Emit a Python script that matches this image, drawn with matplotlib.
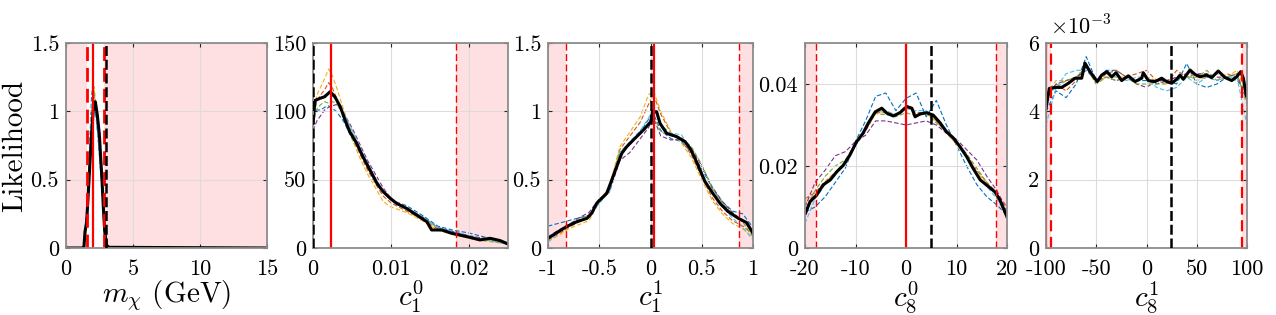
import matplotlib
matplotlib.use("Agg")
import matplotlib.pyplot as plt
import numpy as np

# MATLAB default line colours for the six chains
chain_colors = ['#0072BD', '#D95319', '#EDB120', '#7E2F8E', '#77AC30', '#4DBEEE']

# ---- panel 1: m_chi ----
m_x = [0, 1.3, 1.34, 1.42, 1.54, 1.67, 1.79, 1.92, 2.04, 2.19, 2.34, 2.49, 2.59, 2.69, 2.79, 2.89, 3.03, 3.2, 15]
m_y = [0, 0, 0.01, 0.12, 0.19, 0.41, 0.63, 0.85, 1.02, 1.07, 0.97, 0.83, 0.66, 0.49, 0.29, 0.12, 0.02, 0.005, 0]
m_cx = [1.3, 1.45, 1.6, 1.75, 1.9, 2.0, 2.1, 2.25, 2.4, 2.55, 2.7, 2.85, 3.0, 3.15]
m_chains = [
    [0, 0.15, 0.35, 0.70, 1.10, 1.20, 1.05, 0.95, 0.80, 0.60, 0.42, 0.20, 0.04, 0],
    [0, 0.10, 0.30, 0.62, 0.95, 1.05, 1.10, 1.00, 0.90, 0.72, 0.50, 0.25, 0.05, 0],
    [0, 0.12, 0.32, 0.66, 1.00, 1.12, 1.18, 1.02, 0.85, 0.66, 0.45, 0.22, 0.04, 0],
    [0, 0.10, 0.28, 0.60, 0.92, 1.00, 1.02, 0.98, 0.82, 0.64, 0.44, 0.20, 0.03, 0],
    [0, 0.11, 0.30, 0.64, 0.98, 1.08, 1.15, 1.00, 0.84, 0.66, 0.47, 0.23, 0.04, 0],
    [0, 0.13, 0.33, 0.68, 1.02, 1.10, 1.08, 0.97, 0.80, 0.62, 0.44, 0.22, 0.04, 0],
]

# ---- panel 2: c1^0 ----
c10_x = [0, 0.00026, 0.0009, 0.0015, 0.0022, 0.0028, 0.0035, 0.0041, 0.0047, 0.0056, 0.0064, 0.0073,
         0.0082, 0.009, 0.0099, 0.0107, 0.012, 0.0133, 0.0146, 0.0152, 0.0165, 0.0178, 0.0188,
         0.0201, 0.0214, 0.0227, 0.024, 0.025]
c10_y = [92, 108, 109.5, 110.7, 114.4, 110.7, 103.4, 93.7, 85.1, 76.6, 66.8, 57.1,
         47.3, 41.2, 36.4, 32.7, 29.0, 24.1, 19.2, 13.2, 13.2, 10.7, 9.5,
         7.8, 5.9, 7.1, 5.4, 2.9]
c10_cx = [0, 0.0005, 0.001, 0.0015, 0.002, 0.0025, 0.003, 0.004, 0.005, 0.006, 0.007, 0.008,
          0.009, 0.010, 0.012, 0.014, 0.016, 0.018, 0.020, 0.022, 0.025]
c10_chains = [
    [96, 101, 101, 103, 104, 102, 100, 92, 80, 70, 58, 49, 41, 35, 31, 24, 16, 13, 11, 8, 4],
    [94, 108, 112, 116, 121, 117, 110, 95, 82, 69, 57, 47, 38, 33, 27, 21, 14, 10, 8, 6, 3],
    [98, 112, 118, 124, 131, 126, 118, 100, 80, 66, 54, 44, 34, 30, 26, 20, 13, 10, 7, 5, 3],
    [86, 93, 97, 101, 103, 104, 105, 98, 88, 76, 64, 54, 44, 36, 29, 23, 15, 12, 9, 7, 4],
    [90, 102, 105, 107, 106, 107, 106, 97, 85, 73, 62, 51, 41, 35, 28, 22, 15, 11, 8, 6, 3],
    [100, 108, 110, 112, 112, 111, 109, 98, 86, 74, 62, 51, 42, 35, 29, 23, 15, 12, 9, 6, 3],
]

# ---- panel 3: c1^1 ----
c11_x = [-1, -0.90, -0.82, -0.72, -0.62, -0.574, -0.525, -0.476, -0.427, -0.378, -0.33, -0.28,
         -0.232, -0.168, -0.102, -0.054, 0.002, 0.02, 0.06, 0.093, 0.158, 0.255, 0.337, 0.385,
         0.434, 0.483, 0.532, 0.597, 0.678, 0.759, 0.857, 0.939, 1.0]
c11_y = [0.071, 0.119, 0.156, 0.192, 0.217, 0.254, 0.327, 0.364, 0.40, 0.498, 0.595, 0.693,
         0.741, 0.790, 0.839, 0.876, 0.924, 0.997, 0.997, 0.912, 0.839, 0.815, 0.778, 0.730,
         0.656, 0.571, 0.485, 0.412, 0.327, 0.266, 0.217, 0.185, 0.107]
c11_cx = [-1, -0.9, -0.8, -0.7, -0.6, -0.5, -0.4, -0.3, -0.2, -0.1, -0.02, 0.03, 0.1, 0.2, 0.3,
          0.4, 0.5, 0.6, 0.7, 0.8, 0.9, 1.0]
c11_chains = [
    [0.16, 0.18, 0.20, 0.22, 0.24, 0.33, 0.42, 0.68, 0.76, 0.85, 0.94, 0.98, 0.86, 0.80, 0.78, 0.70, 0.58, 0.44, 0.34, 0.27, 0.25, 0.15],
    [0.06, 0.10, 0.15, 0.19, 0.22, 0.35, 0.44, 0.72, 0.82, 0.92, 1.05, 1.12, 0.98, 0.84, 0.79, 0.68, 0.52, 0.37, 0.27, 0.20, 0.16, 0.10],
    [0.05, 0.09, 0.14, 0.17, 0.20, 0.34, 0.45, 0.74, 0.85, 0.96, 1.12, 1.15, 1.00, 0.85, 0.77, 0.66, 0.50, 0.35, 0.25, 0.18, 0.14, 0.08],
    [0.08, 0.13, 0.17, 0.22, 0.26, 0.36, 0.41, 0.64, 0.70, 0.80, 0.88, 0.95, 0.82, 0.79, 0.80, 0.73, 0.60, 0.45, 0.34, 0.26, 0.20, 0.12],
    [0.07, 0.12, 0.16, 0.21, 0.24, 0.35, 0.43, 0.70, 0.76, 0.84, 0.90, 0.96, 0.85, 0.82, 0.81, 0.74, 0.61, 0.44, 0.33, 0.25, 0.19, 0.08],
    [0.04, 0.11, 0.17, 0.20, 0.22, 0.33, 0.41, 0.70, 0.78, 0.86, 0.95, 1.02, 0.90, 0.84, 0.83, 0.72, 0.55, 0.40, 0.30, 0.22, 0.15, 0.06],
]

# ---- panel 4: c8^0 ----
c80_x = [-19.9, -19.0, -17.7, -16.4, -15.0, -13.7, -12.4, -11.1, -9.8, -8.5, -7.5, -6.1, -4.8,
         -3.8, -2.5, -1.2, 0.17, 1.16, 1.8, 2.8, 4.1, 5.4, 6.7, 8.0, 9.4, 10.7, 12.0, 13.3,
         14.7, 16.3, 17.6, 18.6, 20]
c80_y = [0.0085, 0.0113, 0.0129, 0.0154, 0.0166, 0.0186, 0.0202, 0.0227, 0.0259, 0.0280, 0.0304,
         0.0332, 0.0341, 0.0329, 0.0322, 0.0330, 0.0345, 0.0341, 0.0320, 0.0327, 0.0330, 0.0324,
         0.0306, 0.0284, 0.0268, 0.0247, 0.0223, 0.0194, 0.0166, 0.0150, 0.0137, 0.0117, 0.0076]
c80_cx = [-20, -18, -16, -14, -12, -10, -8, -6, -4, -2, 0, 2, 4, 6, 8, 10, 12, 14, 16, 18, 20]
c80_chains = [
    [0.0088, 0.0100, 0.0125, 0.0160, 0.0195, 0.0260, 0.0310, 0.0370, 0.0378, 0.0335, 0.0365, 0.0378, 0.0320, 0.0360, 0.0300, 0.0250, 0.0200, 0.0155, 0.0125, 0.0105, 0.0080],
    [0.0120, 0.0135, 0.0162, 0.0185, 0.0205, 0.0250, 0.0285, 0.0330, 0.0330, 0.0325, 0.0345, 0.0330, 0.0330, 0.0310, 0.0280, 0.0255, 0.0225, 0.0190, 0.0160, 0.0135, 0.0100],
    [0.0110, 0.0130, 0.0160, 0.0185, 0.0210, 0.0255, 0.0290, 0.0335, 0.0330, 0.0320, 0.0350, 0.0325, 0.0328, 0.0310, 0.0282, 0.0252, 0.0222, 0.0185, 0.0158, 0.0128, 0.0085],
    [0.0100, 0.0160, 0.0190, 0.0225, 0.0235, 0.0260, 0.0275, 0.0310, 0.0310, 0.0305, 0.0300, 0.0305, 0.0310, 0.0300, 0.0280, 0.0265, 0.0240, 0.0215, 0.0175, 0.0140, 0.0090],
    [0.0090, 0.0140, 0.0175, 0.0200, 0.0215, 0.0255, 0.0288, 0.0328, 0.0325, 0.0320, 0.0330, 0.0322, 0.0328, 0.0305, 0.0285, 0.0258, 0.0230, 0.0195, 0.0160, 0.0130, 0.0070],
    [0.0060, 0.0120, 0.0155, 0.0185, 0.0205, 0.0250, 0.0290, 0.0335, 0.0335, 0.0325, 0.0340, 0.0335, 0.0335, 0.0315, 0.0285, 0.0255, 0.0220, 0.0180, 0.0150, 0.0120, 0.0080],
]

# ---- panel 5: c8^1 (values in units of 1e-3) ----
c81_x = [-100, -96.7, -91, -84.4, -77.8, -71.1, -64.5, -61.2, -56.2, -49, -44.6, -39.6, -34.6,
         -30.3, -24.7, -18.1, -11.4, -4.8, -3.2, 1.8, 8.5, 15.1, 20.1, 25.1, 30.0, 33.3, 36.6,
         43.3, 48.3, 53.2, 59.9, 64.9, 71.4, 78.1, 84.8, 89.7, 93.7, 96.3, 99.5]
c81_y = [4.09, 4.67, 4.70, 4.70, 4.82, 4.97, 4.97, 5.41, 5.16, 4.87, 5.06, 5.16, 5.01,
         5.13, 4.90, 5.04, 4.87, 4.97, 5.13, 4.90, 4.87, 4.97, 4.87, 4.82, 4.94, 5.06, 4.94,
         5.21, 5.08, 5.01, 5.06, 4.99, 5.18, 4.99, 4.90, 5.01, 5.16, 4.97, 4.45]
c81_cx = [-100, -90, -80, -70, -60, -50, -40, -30, -20, -10, 0, 10, 20, 30, 40, 50, 60, 70, 80, 90, 100]
c81_chains = [
    [4.0, 4.6, 4.4, 4.8, 5.6, 4.9, 5.2, 5.2, 5.0, 4.9, 4.9, 4.8, 4.9, 4.8, 5.4, 4.8, 4.7, 4.8, 5.0, 4.9, 4.6],
    [4.3, 4.8, 4.6, 4.9, 5.3, 4.8, 5.1, 5.2, 5.0, 5.1, 5.2, 4.9, 4.8, 5.2, 5.0, 5.1, 5.0, 4.9, 5.1, 5.0, 4.4],
    [4.5, 4.9, 4.9, 5.0, 5.3, 4.9, 5.0, 5.0, 5.0, 4.9, 5.0, 4.9, 4.9, 5.0, 5.1, 4.9, 5.0, 5.1, 5.0, 5.2, 4.5],
    [4.4, 4.8, 4.9, 5.0, 5.2, 4.9, 5.0, 4.9, 5.0, 4.8, 4.7, 4.9, 4.9, 5.0, 5.1, 5.1, 5.1, 5.0, 5.0, 5.1, 4.3],
    [4.5, 4.7, 4.9, 5.0, 5.3, 4.8, 5.0, 4.9, 5.0, 4.8, 4.8, 4.8, 4.8, 4.9, 5.0, 5.0, 5.2, 4.9, 5.0, 5.1, 4.2],
    [3.6, 4.7, 5.1, 5.2, 5.2, 4.9, 5.2, 5.0, 4.9, 5.0, 5.0, 4.7, 4.6, 4.7, 5.0, 4.8, 5.0, 4.9, 5.0, 5.0, 3.6],
]

# reference lines: best fit (red solid), 1-sigma bounds (red dashed), truth (black dash-dot)
best_fit = [1.99, 0.0023, 0.034, 0.0, -99.8]
bounds = [(1.54, 2.82), (-1.0, 0.0183), (-0.82, 0.867), (-17.8, 17.8), (-95, 94.7)]
truth = [2.99, 0.00004, 0.002, 4.9, 24.1]

xlims = [(0, 15), (0, 0.025), (-1, 1), (-20, 20), (-100, 100)]
ylims = [(0, 1.5), (0, 150), (0, 1.5), (0, 0.05), (0, 6)]
xticks = [[0, 5, 10, 15], [0, 0.01, 0.02], [-1, -0.5, 0, 0.5, 1], [-20, -10, 0, 10, 20], [-100, -50, 0, 50, 100]]
xticklabels = [['0', '5', '10', '15'], ['0', '0.01', '0.02'], ['-1', '-0.5', '0', '0.5', '1'],
               ['-20', '-10', '0', '10', '20'], ['-100', '-50', '0', '50', '100']]
yticks = [[0, 0.5, 1, 1.5], [0, 50, 100, 150], [0, 0.5, 1, 1.5], [0, 0.02, 0.04], [0, 2, 4, 6]]
yticklabels = [['0', '0.5', '1', '1.5'], ['0', '50', '100', '150'], ['0', '0.5', '1', '1.5'],
               ['0', '0.02', '0.04'], ['0', '2', '4', '6']]
xlabels = [r'$m_\chi$ (GeV)', r'$c_1^0$', r'$c_1^1$', r'$c_8^0$', r'$c_8^1$']
dash_lw = [2.0, 1.0, 1.0, 1.0, 1.6]

panels = [
    (m_x, m_y, m_cx, m_chains),
    (c10_x, c10_y, c10_cx, c10_chains),
    (c11_x, c11_y, c11_cx, c11_chains),
    (c80_x, c80_y, c80_cx, c80_chains),
    (c81_x, c81_y, c81_cx, c81_chains),
]

plt.rcParams['font.family'] = 'cmr10'
plt.rcParams['mathtext.fontset'] = 'cm'
plt.rcParams['axes.unicode_minus'] = False

W, H = 1276, 315
fig = plt.figure(figsize=(W / 100, H / 100), dpi=100)
lefts = [66, 313, 548, 805, 1046]
widths = [201, 195, 205, 202, 201]
top_px, bot_px = 43, 248

for i, (bx, by, cx, chains) in enumerate(panels):
    ax = fig.add_axes([lefts[i] / W, 1 - bot_px / H, widths[i] / W, (bot_px - top_px) / H])
    x0, x1 = xlims[i]
    lo, hi = bounds[i]
    ax.axvspan(x0, lo, color='#ffe0e2', lw=0, zorder=0)
    ax.axvspan(hi, x1, color='#ffe0e2', lw=0, zorder=0)

    for c, ys in zip(chain_colors, chains):
        ax.plot(cx, ys, '--', color=c, lw=0.8, dashes=(4, 2), zorder=2)
    ax.plot(bx, by, '-', color='black', lw=2.2, zorder=3)

    ax.axvline(best_fit[i], color='red', lw=1.6, zorder=4)
    for b in bounds[i]:
        if x0 < b < x1:
            ax.axvline(b, color='red', ls='--', lw=dash_lw[i], dashes=(5, 2.5), zorder=4)
    ax.axvline(truth[i], color='black', ls='--', lw=1.8, dashes=(4, 1.5), zorder=6)

    ax.set_xlim(x0, x1)
    ax.set_ylim(*ylims[i])
    ax.set_xticks(xticks[i])
    ax.set_xticklabels(xticklabels[i])
    ax.set_yticks(yticks[i])
    ax.set_yticklabels(yticklabels[i])
    ax.tick_params(direction='in', length=3, width=0.8, color='#262626', labelsize=16,
                   top=True, right=True)
    ax.tick_params(axis='x', pad=8)
    ax.tick_params(axis='y', pad=5)
    ax.grid(True, color='#dcdcdc', lw=0.8, zorder=1)
    ax.set_axisbelow(False)
    for s in ax.spines.values():
        s.set_color('#8c8c8c')
        s.set_linewidth(1.3)
        s.set_zorder(5)
    ax.set_xlabel(xlabels[i], fontsize=21, labelpad=0)
    if i == 0:
        ax.set_ylabel('Likelihood', fontsize=21, labelpad=2)
    if i == 4:
        ax.text(0.02, 1.02, r'$\times 10^{-3}$', transform=ax.transAxes, fontsize=16,
                ha='left', va='bottom')

fig.savefig('out.png', dpi=100)
